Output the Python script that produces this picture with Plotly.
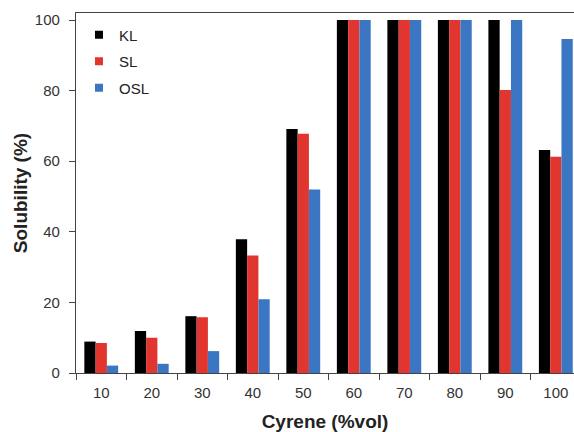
import plotly.graph_objects as go

categories = ["10", "20", "30", "40", "50", "60", "70", "80", "90", "100"]
kl = [8.9, 11.9, 16.1, 37.9, 69.1, 100, 100, 100, 100, 63.2]
sl = [8.5, 10.0, 15.8, 33.3, 67.8, 100, 100, 100, 80.2, 61.3]
osl = [2.1, 2.6, 6.2, 20.9, 52.0, 100, 100, 100, 100, 94.6]
series_names = ["KL", "SL", "OSL"]
colors = ["#000000", "#e0362f", "#3a76c2"]
yticks = [0, 20, 40, 60, 80, 100]

font = "Arial, Liberation Sans, sans-serif"
fig = go.Figure()
for name, vals, c in zip(series_names, [kl, sl, osl], colors):
    fig.add_trace(go.Bar(x=categories, y=vals, name=name, marker_color=c,
                         marker_line_width=0, legendgroup=name, showlegend=False))
    fig.add_trace(go.Scatter(x=[None], y=[None], mode="markers", name=name,
                             marker=dict(symbol="square", size=8, color=c),
                             legendgroup=name, showlegend=True))

fig.update_layout(
    width=574, height=432,
    margin=dict(l=76, r=0, t=13, b=59),
    paper_bgcolor="white", plot_bgcolor="white",
    barmode="group", bargap=0.33, bargroupgap=0,
    font=dict(family=font, size=15, color="#333333"),
    legend=dict(x=0.006, y=0.985, xanchor="left", yanchor="top",
                font=dict(size=15, color="#222222"), tracegroupgap=4,
                traceorder="grouped", itemwidth=30, bgcolor="rgba(0,0,0,0)"),
    xaxis=dict(type="category", range=[-0.5, 9.36], showline=True, linecolor="#444444",
               linewidth=1.2, mirror=True, ticks="outside", tickson="boundaries",
               ticklen=6, tickcolor="#444444", showgrid=False, ticklabelstandoff=6,
               tickfont=dict(size=15, color="#333333"),
               title=dict(text="<b>Cyrene (%vol)</b>", font=dict(size=19, color="#222222"),
                          standoff=16)),
    yaxis=dict(range=[0, 102], tickvals=yticks, showline=True, linecolor="#444444",
               linewidth=1.2, ticks="outside", ticklen=6, tickcolor="#444444",
               showgrid=False, zeroline=False, ticklabelstandoff=6,
               tickfont=dict(size=15, color="#333333"),
               title=dict(text="<b>Solubility (%)</b>", font=dict(size=19, color="#222222"),
                          standoff=2)),
)
fig.write_html("out.html")
